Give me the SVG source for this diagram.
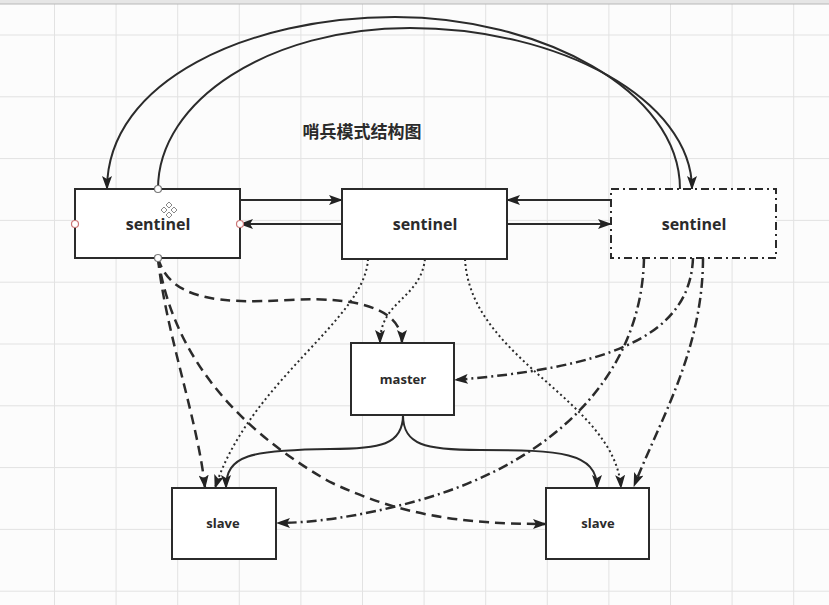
<svg xmlns="http://www.w3.org/2000/svg" width="829" height="605" viewBox="0 0 829 605">
<defs>
<style>
.grid line{stroke:#e2e2e2;stroke-width:1}
.box{fill:#fff;stroke:#2b2b2b;stroke-width:2}
.lbl{font-family:"Open Sans","Noto Sans","DejaVu Sans",sans-serif;font-weight:bold;fill:#2b2b2b;text-anchor:middle}
.c{fill:none;stroke:#2b2b2b;stroke-width:2}
.dash{stroke-dasharray:10 6;stroke-width:2.5}
.dot{stroke-dasharray:2 3;stroke-width:2}
.dd{stroke-dasharray:10 4 2 4;stroke-width:2.5}
.pt{fill:#fff;stroke:#777;stroke-width:1.2}
</style>
<marker id="ah" viewBox="0 0 14 10" refX="13" refY="5" markerWidth="14" markerHeight="10" markerUnits="userSpaceOnUse" orient="auto"><path d="M0,0 L14,5 L0,10 L3,5 z" fill="#222"/></marker>
</defs>
<rect width="829" height="605" fill="#fcfcfc"/>
<g class="grid">
<line x1="54.5" y1="0" x2="54.5" y2="605"/><line x1="116.1" y1="0" x2="116.1" y2="605"/><line x1="177.7" y1="0" x2="177.7" y2="605"/><line x1="239.3" y1="0" x2="239.3" y2="605"/><line x1="300.9" y1="0" x2="300.9" y2="605"/><line x1="362.5" y1="0" x2="362.5" y2="605"/><line x1="424.1" y1="0" x2="424.1" y2="605"/><line x1="485.7" y1="0" x2="485.7" y2="605"/><line x1="547.3" y1="0" x2="547.3" y2="605"/><line x1="608.9" y1="0" x2="608.9" y2="605"/><line x1="670.5" y1="0" x2="670.5" y2="605"/><line x1="732.1" y1="0" x2="732.1" y2="605"/><line x1="793.7" y1="0" x2="793.7" y2="605"/>
<line x1="0" y1="35" x2="829" y2="35"/><line x1="0" y1="96.8" x2="829" y2="96.8"/><line x1="0" y1="158.6" x2="829" y2="158.6"/><line x1="0" y1="220.4" x2="829" y2="220.4"/><line x1="0" y1="282.2" x2="829" y2="282.2"/><line x1="0" y1="344" x2="829" y2="344"/><line x1="0" y1="405.8" x2="829" y2="405.8"/><line x1="0" y1="467.6" x2="829" y2="467.6"/><line x1="0" y1="529.4" x2="829" y2="529.4"/><line x1="0" y1="591.2" x2="829" y2="591.2"/>
</g>
<rect x="0" y="0" width="829" height="4" fill="#e6e6e6"/>
<line x1="0" y1="4" x2="829" y2="4" stroke="#b8b8b8" stroke-width="1"/>

<text x="362" y="138" class="lbl" style="font-family:'Noto Sans CJK SC','Noto Sans',sans-serif;font-size:17px">哨兵模式结构图</text>

<g id="connectors">
<path class="c" d="M680,189 C680,90 540,17 395,17 C250,17 107,80 107,189" marker-end="url(#ah)"/>
<path class="c" d="M158,189 C158,100 270,28 410,28 C560,28 692,100 692,189" marker-end="url(#ah)"/>
<path class="c" d="M240,200 L342,200" marker-end="url(#ah)"/>
<path class="c" d="M342,224 L240,224" marker-end="url(#ah)"/>
<path class="c" d="M611,200 L507,200" marker-end="url(#ah)"/>
<path class="c" d="M507,224 L611,224" marker-end="url(#ah)"/>
<path class="c dash" d="M158,258 C170,300 220,304 290,300 S402,310 402,343" marker-end="url(#ah)"/>
<path class="c dash" d="M158,258 C165,330 198,420 205,488" marker-end="url(#ah)"/>
<path class="c dash" d="M158,258 C172,350 230,425 330,482 C400,515 460,524 546,524" marker-end="url(#ah)"/>
<path class="c dot" d="M368,259 C365,320 250,380 215,488" marker-end="url(#ah)"/>
<path class="c dot" d="M425,259 C420,300 380,300 380,343" marker-end="url(#ah)"/>
<path class="c dot" d="M465,259 C470,360 615,400 621,488" marker-end="url(#ah)"/>
<path class="c dd" d="M644,258 C642,370 560,460 420,500 C360,517 310,523 277,523" marker-end="url(#ah)"/>
<path class="c dd" d="M693,258 C690,340 600,368 455,380" marker-end="url(#ah)"/>
<path class="c dd" d="M703,258 C703,350 660,420 634,486" marker-end="url(#ah)"/>
<path class="c" d="M403,415 C403,445 380,449 330,449 C250,450 226,455 226,488" marker-end="url(#ah)"/>
<path class="c" d="M403,415 C403,445 425,450 480,450 C560,450 597,452 597,488" marker-end="url(#ah)"/>
</g>

<g id="sentinel1">
<rect class="box" x="75" y="189" width="165" height="69"/>
<text class="lbl" x="158" y="230" font-size="16">sentinel</text>
<g fill="#fff" stroke="#888" stroke-width="1">
<path d="M169,202 L172,205 L169,208 L166,205 z"/>
<path d="M169,212 L172,215 L169,218 L166,215 z"/>
<path d="M164,207 L167,210 L164,213 L161,210 z"/>
<path d="M174,207 L177,210 L174,213 L171,210 z"/>
</g>
<circle class="pt" cx="158" cy="189" r="3.5"/>
<circle class="pt" cx="158" cy="258" r="3.5"/>
<circle class="pt" cx="75" cy="224" r="3.5" style="stroke:#c77"/>
<circle class="pt" cx="240" cy="224" r="3.5" style="stroke:#c77"/>
</g>
<g id="sentinel2">
<rect class="box" x="342" y="189" width="165" height="70"/>
<text class="lbl" x="425" y="230" font-size="16">sentinel</text>
</g>
<g id="sentinel3">
<rect class="box" x="611" y="189" width="165" height="69" style="stroke-dasharray:8 4 2 4"/>
<text class="lbl" x="694" y="230" font-size="16">sentinel</text>
</g>
<g id="master">
<rect class="box" x="351" y="343" width="103" height="72"/>
<text class="lbl" x="403" y="384" font-size="13">master</text>
</g>
<g id="slave1">
<rect class="box" x="172" y="488" width="104" height="71"/>
<text class="lbl" x="223" y="528" font-size="13">slave</text>
</g>
<g id="slave2">
<rect class="box" x="546" y="488" width="103" height="71"/>
<text class="lbl" x="598" y="528" font-size="13">slave</text>
</g>
</svg>
